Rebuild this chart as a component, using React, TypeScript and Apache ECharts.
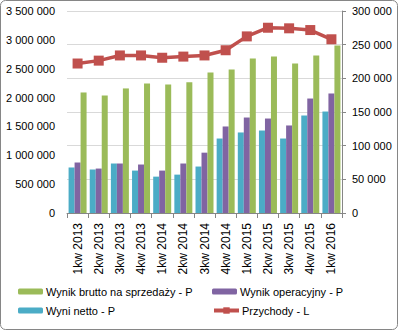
import React, { useEffect, useRef } from "react";
import * as echarts from "echarts";

const categories = [
  "1kw 2013", "2kw 2013", "3kw 2013", "4kw 2013",
  "1kw 2014", "2kw 2014", "3kw 2014", "4kw 2014",
  "1kw 2015", "2kw 2015", "3kw 2015", "4kw 2015",
  "1kw 2016",
];
const wynikNetto = [67600, 64600, 73500, 63000, 54000, 57000, 69000, 110600, 119600, 122500, 110600, 144800, 150700];
const wynikOperacyjny = [75000, 66000, 73500, 72000, 63000, 73500, 89600, 128500, 141800, 140300, 130000, 170000, 177500];
const wynikBrutto = [179000, 174500, 185000, 192300, 190800, 194000, 208700, 213000, 229500, 232400, 222000, 234000, 248800];
const przychody = [2590000, 2640000, 2730000, 2730000, 2690000, 2710000, 2730000, 2820000, 3060000, 3210000, 3200000, 3170000, 3010000];

const FONT = "Liberation Sans";
const fmt = (v: number) => String(v).replace(/\B(?=(\d{3})+(?!\d))/g, " ");

export default function App() {
  const ref = useRef<HTMLDivElement>(null);
  useEffect(() => {
    document.body.style.margin = "0";
    const chart = echarts.init(ref.current!, undefined, { renderer: "svg" });
    const axisLine = { show: true, lineStyle: { color: "#868686", width: 1 } };
    const labelStyle = { color: "#000", fontFamily: FONT, fontSize: 11 };
    const legendBase = {
      orient: "horizontal",
      padding: 0,
      itemWidth: 25,
      itemHeight: 6,
      textStyle: { ...labelStyle, padding: [0, 0, 0, -2] },
    };
    chart.setOption({
      animation: false,
      textStyle: { fontFamily: FONT },
      grid: { left: 67, right: 56, top: 11, bottom: 117 },
      graphic: [
        {
          type: "rect",
          shape: { x: 0.5, y: 0.5, width: 397, height: 329, r: 5 },
          style: { fill: "none", stroke: "#868686", lineWidth: 1 },
          silent: true,
        },
      ],
      legend: [
        { ...legendBase, left: 18, top: 286, data: ["Wynik brutto na sprzedaży - P"] },
        { ...legendBase, left: 212, top: 286, data: ["Wynik operacyjny - P"] },
        { ...legendBase, left: 18, top: 305, data: ["Wyni netto - P"] },
        {
          ...legendBase,
          left: 212,
          top: 305,
          itemHeight: 8,
          lineStyle: { width: 4 },
          data: ["Przychody - L"],
        },
      ],
      xAxis: {
        type: "category",
        data: categories,
        boundaryGap: true,
        axisLine,
        axisTick: { show: true, length: 5, alignWithLabel: false, lineStyle: { color: "#868686" } },
        axisLabel: { ...labelStyle, fontSize: 12, rotate: 90, margin: 10, interval: 0 },
      },
      yAxis: [
        {
          type: "value",
          position: "left",
          min: 0,
          max: 3500000,
          interval: 500000,
          axisLine: { show: false },
          axisTick: { show: false },
          splitLine: { show: false },
          axisLabel: { ...labelStyle, margin: 12, formatter: fmt },
        },
        {
          type: "value",
          position: "right",
          min: 0,
          max: 300000,
          interval: 50000,
          axisLine,
          axisTick: { show: true, length: 4, lineStyle: { color: "#868686" } },
          splitLine: { show: true, lineStyle: { color: "#D9D9D9", width: 1 } },
          axisLabel: { ...labelStyle, margin: 10, formatter: fmt },
        },
      ],
      series: [
        {
          name: "Wyni netto - P",
          type: "bar",
          yAxisIndex: 1,
          data: wynikNetto,
          barWidth: 6,
          barGap: "0%",
          itemStyle: { color: "#4BACC6" },
        },
        {
          name: "Wynik operacyjny - P",
          type: "bar",
          yAxisIndex: 1,
          data: wynikOperacyjny,
          barWidth: 6,
          barGap: "0%",
          itemStyle: { color: "#8064A2" },
        },
        {
          name: "Wynik brutto na sprzedaży - P",
          type: "bar",
          yAxisIndex: 1,
          data: wynikBrutto,
          barWidth: 6,
          barGap: "0%",
          itemStyle: { color: "#9BBB59" },
        },
        {
          name: "Przychody - L",
          type: "line",
          yAxisIndex: 0,
          data: przychody,
          symbol: "rect",
          symbolSize: 10,
          lineStyle: { color: "#C0504D", width: 3.5 },
          itemStyle: { color: "#C0504D" },
          z: 5,
        },
      ],
    });
    return () => chart.dispose();
  }, []);
  return <div ref={ref} style={{ width: 398, height: 330 }} />;
}
